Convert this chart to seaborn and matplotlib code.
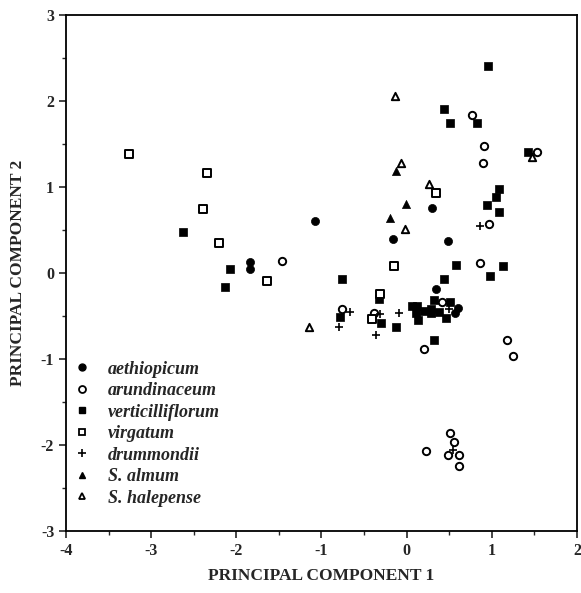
import matplotlib
matplotlib.use("Agg")
import matplotlib.pyplot as plt
from matplotlib.lines import Line2D
from matplotlib.ticker import MultipleLocator
import seaborn as sns
import pandas as pd

sns.set_style("ticks")
plt.rcParams['font.family'] = ['Liberation Serif', 'DejaVu Serif']
plt.rcParams['axes.unicode_minus'] = False

species = ["aethiopicum", "arundinaceum", "verticilliflorum", "virgatum",
           "drummondii", "S. almum", "S. halepense"]

aethiopicum_x = [-1.84, -1.84, -1.08, 0.30, -0.165, 0.49, 0.346, 0.60, 0.568]
aethiopicum_y = [0.13, 0.04, 0.60, 0.76, 0.39, 0.37, -0.19, -0.41, -0.47]

arundinaceum_x = [-1.46, 0.77, 0.91, 0.90, 1.53, 0.97, 0.856, -0.76, -0.38, 0.42,
                  0.206, 1.18, 1.25, 0.51, 0.55, 0.23, 0.486, 0.61, 0.61]
arundinaceum_y = [0.14, 1.84, 1.48, 1.28, 1.40, 0.57, 0.11, -0.42, -0.47, -0.34,
                  -0.88, -0.78, -0.96, -1.86, -1.96, -2.07, -2.12, -2.12, -2.24]

verticilliflorum_x = [-2.63, -2.07, -2.13, 0.957, 0.44, 0.506, 0.825, 1.42, 1.09, 1.05,
                      0.94, 1.09, 0.58, 1.137, 0.98, -0.756, 0.44, -0.32, -0.78, -0.30,
                      -0.13, 0.057, 0.127, 0.11, 0.135, 0.20, 0.28, 0.29, 0.326, 0.377,
                      0.466, 0.506, 0.32]
verticilliflorum_y = [0.47, 0.05, -0.16, 2.41, 1.91, 1.74, 1.74, 1.40, 0.97, 0.88,
                      0.79, 0.71, 0.09, 0.085, -0.03, -0.07, -0.07, -0.30, -0.51, -0.58,
                      -0.63, -0.38, -0.39, -0.47, -0.55, -0.44, -0.42, -0.47, -0.32, -0.45,
                      -0.52, -0.34, -0.78]

virgatum_x = [-3.26, -2.345, -2.39, -2.20, -1.64, 0.34, -0.153, -0.31, -0.41]
virgatum_y = [1.38, 1.16, 0.74, 0.35, -0.09, 0.93, 0.085, -0.25, -0.54]

drummondii_x = [0.856, -0.67, -0.80, -0.31, -0.355, -0.095, 0.50, 0.54]
drummondii_y = [0.55, -0.45, -0.63, -0.48, -0.72, -0.47, -0.42, -2.06]

almum_x = [-0.13, -0.008, -0.19]
almum_y = [1.19, 0.80, 0.64]

halepense_x = [-0.14, 1.47, -0.07, 0.26, -0.02, -1.15]
halepense_y = [2.06, 1.35, 1.28, 1.03, 0.51, -0.63]

xs = [aethiopicum_x, arundinaceum_x, verticilliflorum_x, virgatum_x,
      drummondii_x, almum_x, halepense_x]
ys = [aethiopicum_y, arundinaceum_y, verticilliflorum_y, virgatum_y,
      drummondii_y, almum_y, halepense_y]

styles = [("o", True), ("o", False), ("s", True), ("s", False),
          ("+", True), ("^", True), ("^", False)]

fig = plt.figure(figsize=(5.81, 5.93), dpi=100)
ax = fig.add_axes([0.1136, 0.1045, 0.8795, 0.8705])

for name, x, y, (m, filled) in zip(species, xs, ys, styles):
    df = pd.DataFrame({"pc1": x, "pc2": y})
    if m == "+":
        sns.scatterplot(data=df, x="pc1", y="pc2", marker="+", color="black",
                        s=40, linewidth=1.2, ax=ax, legend=False)
    elif filled:
        sns.scatterplot(data=df, x="pc1", y="pc2", marker=m, color="black",
                        edgecolor="black", s=34, linewidth=0.5, ax=ax, legend=False)
    else:
        sns.scatterplot(data=df, x="pc1", y="pc2", marker=m, facecolor="white",
                        edgecolor="black", s=28, linewidth=1.4, ax=ax, legend=False)

ax.set_xlim(-4, 2)
ax.set_ylim(-3, 3)
ax.xaxis.set_major_locator(MultipleLocator(1))
ax.yaxis.set_major_locator(MultipleLocator(1))
ax.xaxis.set_minor_locator(MultipleLocator(0.5))
ax.yaxis.set_minor_locator(MultipleLocator(0.5))
ax.tick_params(which="major", direction="out", length=5, width=1.2,
               labelsize=11.5)
ax.tick_params(which="minor", direction="out", length=3, width=1.0)
for lab in ax.get_xticklabels() + ax.get_yticklabels():
    lab.set_fontweight("bold")
for sp in ax.spines.values():
    sp.set_visible(True)
    sp.set_linewidth(1.3)
    sp.set_color("black")

ax.set_xlabel("PRINCIPAL COMPONENT 1", fontsize=12.5, fontweight="bold", va="center")
ax.set_ylabel("PRINCIPAL COMPONENT 2", fontsize=12.5, fontweight="bold", va="center")
ax.xaxis.set_label_coords(0.5, -0.087)
ax.yaxis.set_label_coords(-0.094, 0.5)

handles = []
for name, (m, filled) in zip(species, styles):
    if m == "+":
        h = Line2D([], [], marker="+", color="black", linestyle="none",
                   markersize=6, markeredgewidth=1.2)
    elif filled:
        h = Line2D([], [], marker=m, color="black", linestyle="none",
                   markersize=5)
    else:
        h = Line2D([], [], marker=m, markerfacecolor="white", markeredgecolor="black",
                   linestyle="none", markersize=5, markeredgewidth=1.3)
    handles.append(h)

leg = ax.legend(handles, species, loc="upper left", bbox_to_anchor=(0.0, 0.344),
                frameon=False, handlelength=1.0, handletextpad=0.9,
                labelspacing=0.25, borderaxespad=0.0,
                prop={"family": "Liberation Serif", "style": "italic",
                      "weight": "bold", "size": 13})

fig.savefig("out.png", dpi=100)
